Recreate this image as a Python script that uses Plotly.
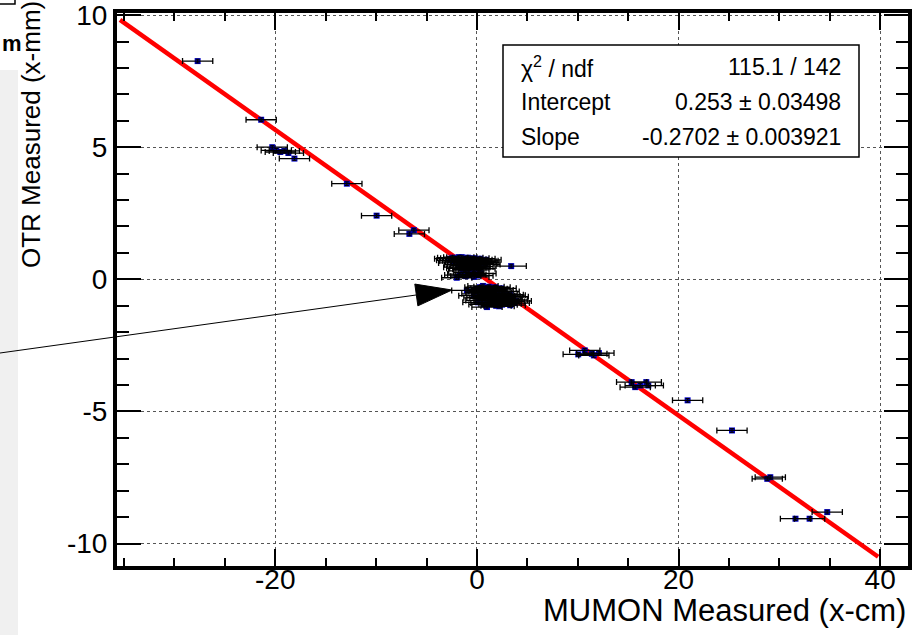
import plotly.graph_objects as go

# MUMON vs OTR beam-position measurements (MUMON in cm, OTR in mm)
mumon_x = [
    -27.7, -21.4, -20.3, -19.9, -19.5, -19.1, -18.7, -18.1, -12.9, -9.95, -6.7, -6.25,
    # upper central group
    -2.7, -2.4, -2.1, -1.8, -1.5, -1.2, -0.9, -0.6, -0.3, 0.0, 0.3, 0.6, 0.9,
    -2.2, -1.9, -1.6, -1.3, -1.0, -0.7, -0.4, -0.1, 0.2, 0.5, 0.8,
    -1.7, -1.4, -1.1, -0.8, -0.5, -0.2, 0.1,
    -1.5, -1.2, -0.9, -0.6, -0.3,
    -2.0, -1.7, -1.4, -1.1, -0.6, -0.3, 0.1, 0.4,
    -2.5, -2.3, -1.0, -0.4, 0.4, 0.7, -1.8, -0.2, 0.3, -0.8, -1.3,
    3.4,
    # lower central group
    -1.0, -0.3, 0.0, 0.1, 0.3, 0.6, 0.9, 1.2, 1.5, 1.8, 2.1, 2.4,
    0.4, 0.7, 1.0, 1.3, 1.6, 1.9, 2.2, 2.5, 2.8, 3.1,
    0.5, 0.8, 1.1, 1.4, 1.7, 2.0, 2.3, 2.6, 2.9, 3.2, 3.5, 3.6,
    0.4, 0.9, 1.0, 1.3, 1.7, 1.9, 2.1, 2.5, 2.9, 3.3, 3.7, 3.3,
    0.6, 1.4, 2.7, 3.0, 1.2, 2.2, 2.7, 0.2, 1.6, 3.9, 0.7,
    # positive side
    10.05, 10.7, 11.4, 11.6, 12.1, 15.35, 15.7, 16.2, 16.8, 17.0,
    20.9, 25.3, 28.8, 29.1, 31.6, 33.0, 34.75,
]
otr_y = [
    8.26, 6.04, 5.00, 4.88, 4.82, 4.86, 4.78, 4.57, 3.62, 2.41, 1.72, 1.86,
    0.78, 0.82, 0.80, 0.84, 0.84, 0.78, 0.82, 0.76, 0.80, 0.74, 0.78, 0.70, 0.74,
    0.70, 0.70, 0.66, 0.72, 0.64, 0.68, 0.62, 0.66, 0.60, 0.62, 0.56,
    0.56, 0.56, 0.52, 0.58, 0.50, 0.54, 0.48,
    0.42, 0.42, 0.38, 0.44, 0.36,
    0.06, 0.16, 0.20, 0.12, 0.18, 0.09, 0.14, 0.22,
    0.72, 0.62, 0.74, 0.70, 0.68, 0.64, 0.46, 0.46, 0.40, 0.26, 0.32,
    0.50,
    -0.42, -0.62, -0.55, -0.87, -0.30, -0.25, -0.34, -0.28, -0.36, -0.30, -0.40, -0.34,
    -0.50, -0.46, -0.55, -0.48, -0.58, -0.52, -0.62, -0.55, -0.64, -0.58,
    -0.68, -0.72, -0.65, -0.75, -0.70, -0.78, -0.72, -0.82, -0.76, -0.84, -0.78, -0.66,
    -0.80, -0.90, -1.05, -0.86, -0.94, -1.00, -0.88, -0.96, -0.92, -0.98, -0.90, -0.60,
    -0.38, -0.42, -0.46, -0.70, -0.80, -1.02, -0.86, -0.70, -0.62, -0.82, -0.95,
    -2.84, -2.69, -2.82, -2.88, -2.79, -3.89, -4.08, -4.02, -3.89, -4.02,
    -4.58, -5.72, -7.55, -7.49, -9.06, -9.06, -8.81,
]
mumon_err = 1.5   # cm
otr_err = 0.07    # mm

# linear fit result
fit_chi2 = 115.1
fit_ndf = 142
fit_intercept = 0.253
fit_intercept_err = 0.03498
fit_slope = -0.2702
fit_slope_err = 0.003921
fit_range = [-35.4, 39.8]

x_range = [-35.7, 42.76]
y_range = [-10.85, 10.08]
x_ticks = [-20, 0, 20, 40]
x_tick_text = ["-20", "0", "20", "40"]
y_ticks = [-10, -5, 0, 5, 10]
y_tick_text = ["-10", "-5", "0", "5", "10"]

W, H = 915, 635
ML, MR, MT, MB = 117, 7, 13, 69
PW, PH = W - ML - MR, H - MT - MB


def px(x):
    return (x - ML) / PW


def py(y):
    return 1 - (y - MT) / PH


FONT = "Liberation Sans, Arial, Helvetica, sans-serif"

fig = go.Figure()

# fitted straight line (drawn beneath the measurements)
fit_x = fit_range
fit_y = [fit_intercept + fit_slope * v for v in fit_x]
fig.add_trace(go.Scatter(
    x=fit_x, y=fit_y, mode="lines",
    line=dict(color="#ff0000", width=4.5),
    showlegend=False, hoverinfo="skip",
))

# measurement markers
fig.add_trace(go.Scatter(
    x=mumon_x, y=otr_y, mode="markers",
    marker=dict(color="#0000c8", size=6, symbol="square"),
    showlegend=False, hoverinfo="x+y",
))

# error bars on top of the markers
fig.add_trace(go.Scatter(
    x=mumon_x, y=otr_y, mode="markers",
    marker=dict(color="rgba(0,0,0,0)", size=1),
    error_x=dict(type="constant", value=mumon_err, color="black", thickness=1.3, width=3),
    error_y=dict(type="constant", value=otr_err, color="black", thickness=1.0, width=2),
    showlegend=False, hoverinfo="skip",
))

axis_common = dict(
    showline=True, linecolor="black", linewidth=4, mirror="allticks",
    ticks="inside", tickcolor="black", tickwidth=1.5,
    showgrid=True, gridcolor="#555555", gridwidth=1, griddash="dot",
    zeroline=False, color="black", ticklabeloverflow="allow", automargin=False,
)

fig.update_xaxes(
    range=x_range, tickvals=x_ticks, ticktext=x_tick_text, ticklen=17,
    ticklabelstandoff=-15,
    minor=dict(dtick=5, ticks="inside", ticklen=8, tickcolor="black", tickwidth=1.5, showgrid=False),
    tickfont=dict(family=FONT, size=28, color="black"),
    **axis_common,
)
fig.update_yaxes(
    range=y_range, tickvals=y_ticks, ticktext=y_tick_text, ticklen=24,
    minor=dict(dtick=1, ticks="inside", ticklen=12, tickcolor="black", tickwidth=1.5, showgrid=False),
    tickfont=dict(family=FONT, size=28, color="black"),
    **axis_common,
)

shapes = []
annotations = []

# statistics box
bx0, bx1, by0, by1 = 503, 859, 45, 157
shapes.append(dict(type="rect", xref="paper", yref="paper",
                   x0=px(bx0), x1=px(bx1), y0=py(by1), y1=py(by0),
                   fillcolor="white", line=dict(color="black", width=1.5), layer="above"))
stat_rows = [
    ("χ<sup>2</sup> / ndf", f"{fit_chi2:.1f} / {fit_ndf}", 67),
    ("Intercept", f"{fit_intercept:g} ± {fit_intercept_err:g}", 102),
    ("Slope", f"{fit_slope:g} ± {fit_slope_err:g}", 137),
]
for label, value, yc in stat_rows:
    annotations.append(dict(text=label, xref="paper", yref="paper", x=px(519), y=py(yc),
                            xanchor="left", yanchor="middle", showarrow=False,
                            font=dict(family=FONT, size=23, color="black")))
    annotations.append(dict(text=value, xref="paper", yref="paper", x=px(843), y=py(yc),
                            xanchor="right", yanchor="middle", showarrow=False,
                            font=dict(family=FONT, size=23, color="black")))

# axis titles
annotations.append(dict(text="MUMON Measured (x-cm)", xref="paper", yref="paper",
                        x=px(908), y=py(610), xanchor="right", yanchor="middle",
                        showarrow=False, font=dict(family=FONT, size=31, color="black")))
annotations.append(dict(text="OTR Measured (x-mm)", xref="paper", yref="paper",
                        x=px(31), y=py(135), xanchor="center", yanchor="middle",
                        textangle=-90, showarrow=False,
                        font=dict(family=FONT, size=26, color="black")))

# slide elements around the plot: side panel, label, frame corner
shapes.append(dict(type="rect", xref="paper", yref="paper",
                   x0=px(0), x1=px(18), y0=py(635), y1=py(70),
                   fillcolor="#f0f0f0", line=dict(width=0), layer="below"))
shapes.append(dict(type="path", xref="paper", yref="paper",
                   path=f"M {px(0)},{py(4)} L {px(15)},{py(4)} L {px(15)},{py(0)}",
                   line=dict(color="black", width=1.5)))
annotations.append(dict(text="<b>m</b>", xref="paper", yref="paper",
                        x=px(0), y=py(44), xanchor="left", yanchor="middle",
                        showarrow=False, font=dict(family=FONT, size=22, color="black")))

# pointer arrow into the central group
tail = (0, 353)
tip = (452, 290)
head_len, head_half = 36, 11
dx, dy = tip[0] - tail[0], tip[1] - tail[1]
n = (dx ** 2 + dy ** 2) ** 0.5
ux, uy = dx / n, dy / n
bcx, bcy = tip[0] - head_len * ux, tip[1] - head_len * uy
p1 = (bcx - head_half * uy, bcy + head_half * ux)
p2 = (bcx + head_half * uy, bcy - head_half * ux)
shapes.append(dict(type="line", xref="paper", yref="paper",
                   x0=px(tail[0]), y0=py(tail[1]), x1=px(bcx), y1=py(bcy),
                   line=dict(color="black", width=1)))
shapes.append(dict(type="path", xref="paper", yref="paper",
                   path=(f"M {px(tip[0])},{py(tip[1])} L {px(p1[0])},{py(p1[1])} "
                         f"L {px(p2[0])},{py(p2[1])} Z"),
                   fillcolor="black", line=dict(color="black", width=1)))

fig.update_layout(
    width=W, height=H,
    margin=dict(l=ML, r=MR, t=MT, b=MB, pad=0, autoexpand=False),
    paper_bgcolor="white", plot_bgcolor="white",
    font=dict(family=FONT, color="black"),
    shapes=shapes, annotations=annotations,
    showlegend=False,
)

fig.write_html("out.html")
